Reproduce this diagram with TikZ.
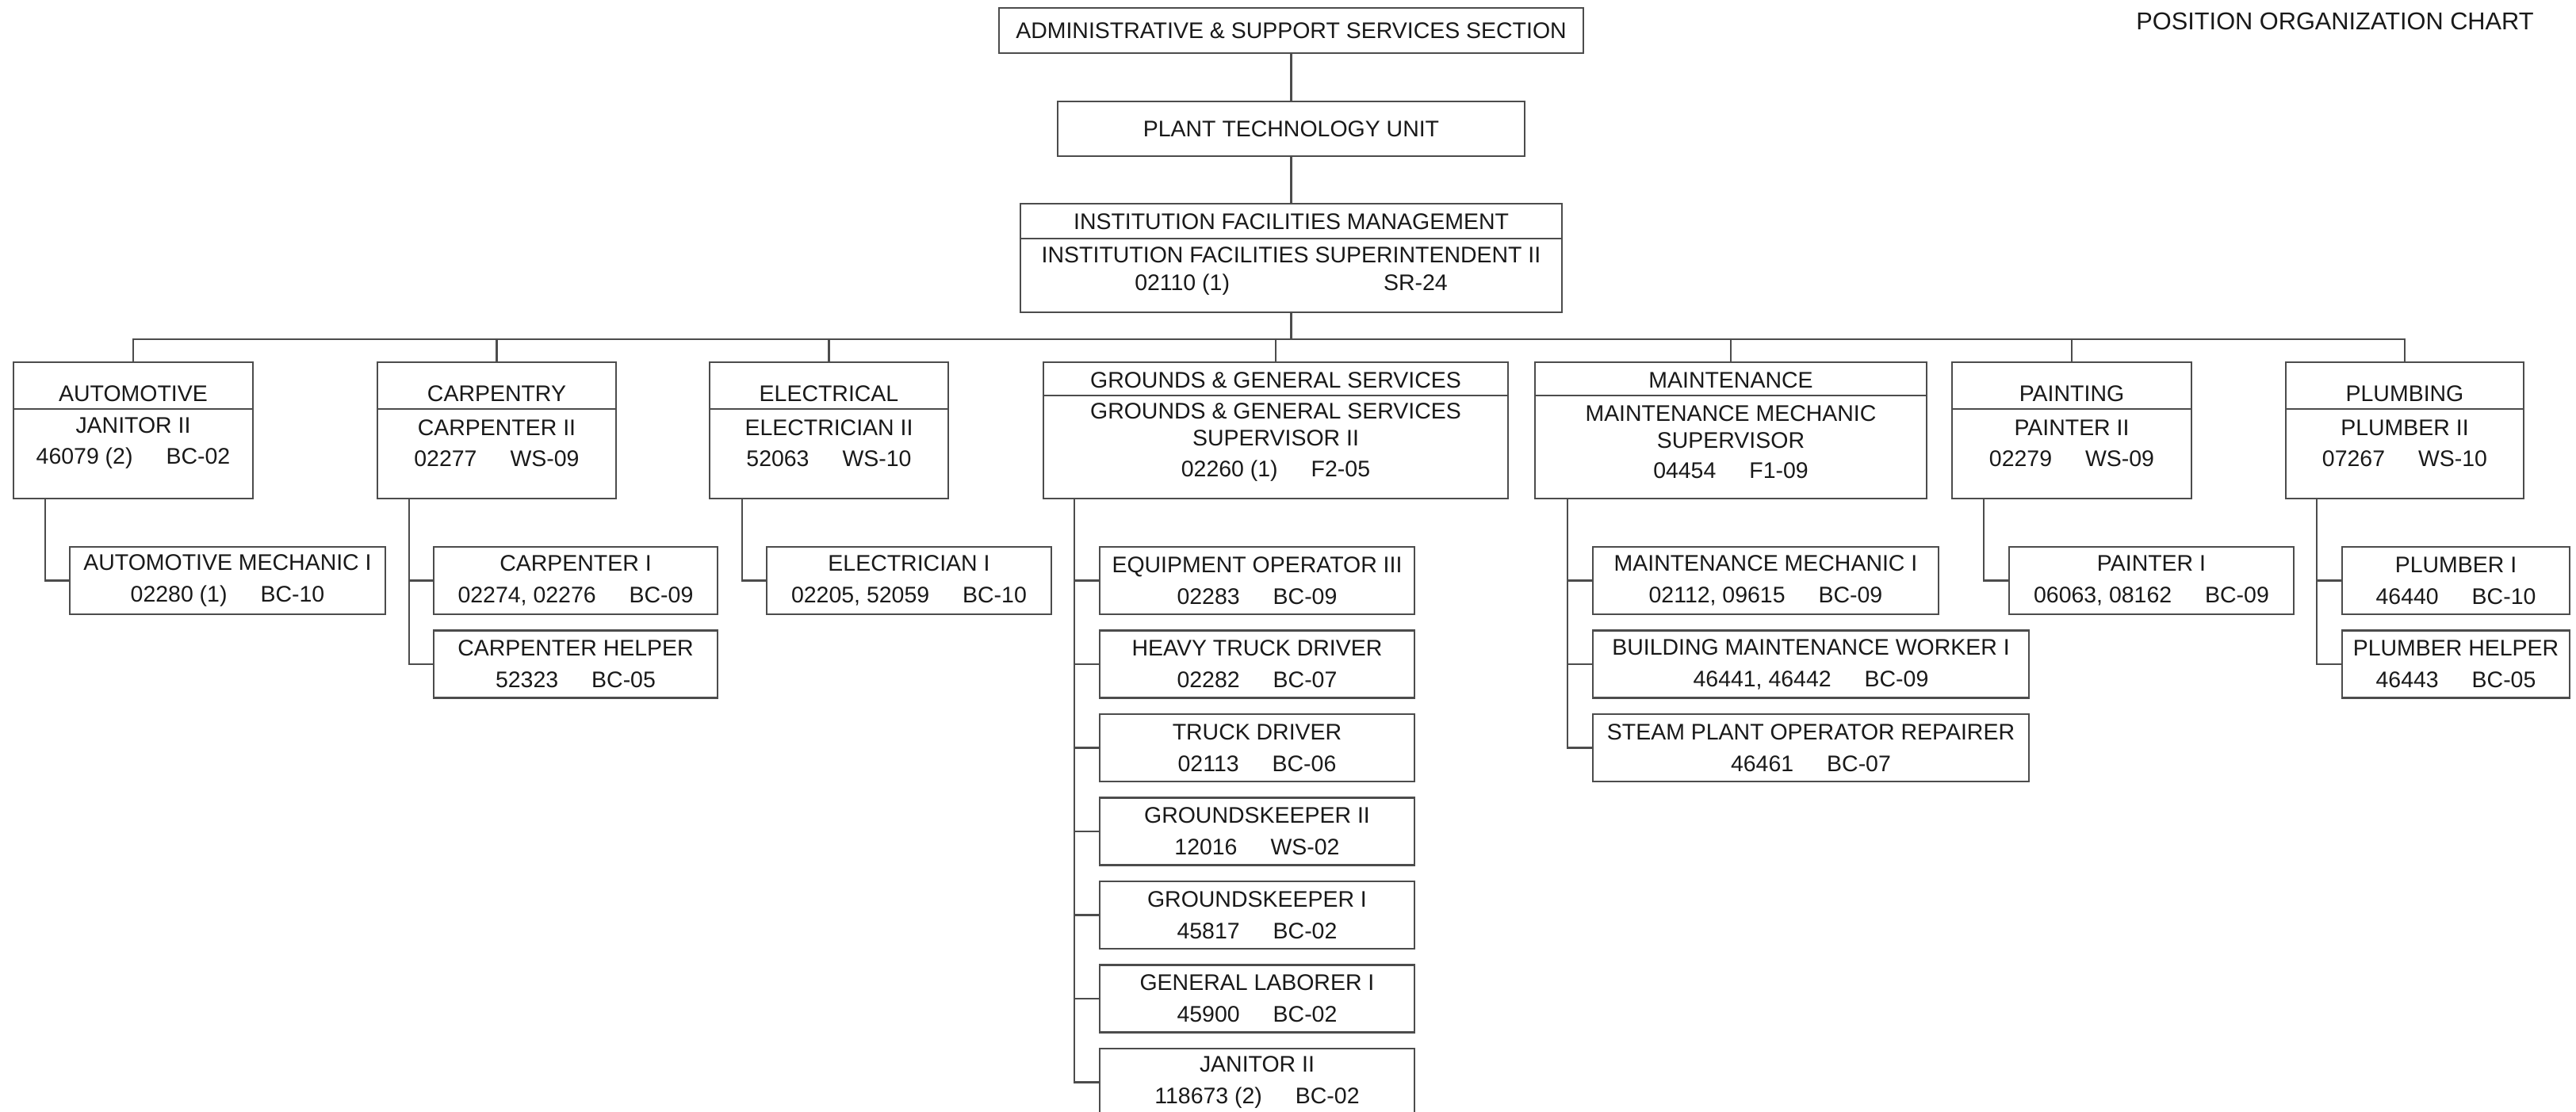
\documentclass[tikz,border=0pt]{standalone}
\usepackage{fontspec}
\setmainfont{Liberation Sans}
\usetikzlibrary{positioning}

\newcommand{\cgap}{\hspace{0.42cm}}

\tikzset{
  box/.style={draw=black!70, line width=0.6pt, inner sep=0pt},
  lbl/.style={inner sep=0pt, align=center, text=black!90, font=\fontsize{8.1}{11}\selectfont},
  posbox/.style={box, lbl, font=\fontsize{8.1}{11.4}\selectfont, minimum height=0.85cm},
  link/.style={draw=black!70, line width=0.6pt},
}

\begin{document}
\begin{tikzpicture}
  \useasboundingbox (0,0) rectangle (32.49,-14.02);

  % heading
  \node[lbl, font=\fontsize{8.75}{11}\selectfont] (heading) at (29.45,-0.27) {POSITION ORGANIZATION CHART};

  % top of the chart
  \node[box, lbl, minimum width=7.37cm, minimum height=0.57cm] (admin) at (16.285,-0.385) {ADMINISTRATIVE \& SUPPORT SERVICES SECTION};
  \node[box, lbl, minimum width=5.89cm, minimum height=0.69cm] (plant) at (16.285,-1.625) {PLANT TECHNOLOGY UNIT};
  \node[box, minimum width=6.83cm, minimum height=1.37cm] (ifm) at (16.285,-3.255) {};
  \node[lbl] (ifmt) at (16.285,-2.80) {INSTITUTION FACILITIES MANAGEMENT};
  \node[lbl] (ifmb) at (16.285,-3.42) {INSTITUTION FACILITIES SUPERINTENDENT II\\[-0.03cm]02110 (1)\hspace{1.94cm}SR-24};
  \draw[link] ([yshift=-0.45cm]ifm.north west) -- ([yshift=-0.45cm]ifm.north east);

  \draw[link] (admin.south) -- (plant.north);
  \draw[link] (plant.south) -- (ifm.north);

  % sections
  \node[box, minimum width=3.02cm, minimum height=1.72cm] (auto) at (1.68,-5.43) {};
  \node[lbl] (autot) at (1.68,-4.97) {AUTOMOTIVE};
  \node[lbl] (autob) at (1.68,-5.59) {JANITOR II\\46079 (2)\cgap BC-02};
  \draw[link] ([yshift=-0.60cm]auto.north west) -- ([yshift=-0.60cm]auto.north east);

  \node[box, minimum width=3.01cm, minimum height=1.72cm] (carp) at (6.265,-5.43) {};
  \node[lbl] (carpt) at (6.265,-4.97) {CARPENTRY};
  \node[lbl] (carpb) at (6.265,-5.59) {CARPENTER II\\02277\cgap WS-09};
  \draw[link] ([yshift=-0.60cm]carp.north west) -- ([yshift=-0.60cm]carp.north east);

  \node[box, minimum width=3.01cm, minimum height=1.72cm] (elec) at (10.455,-5.43) {};
  \node[lbl] (elect) at (10.455,-4.97) {ELECTRICAL};
  \node[lbl] (elecb) at (10.455,-5.59) {ELECTRICIAN II\\52063\cgap WS-10};
  \draw[link] ([yshift=-0.60cm]elec.north west) -- ([yshift=-0.60cm]elec.north east);

  \node[box, minimum width=5.86cm, minimum height=1.72cm] (grnd) at (16.09,-5.43) {};
  \node[lbl] (grndt) at (16.09,-4.80) {GROUNDS \& GENERAL SERVICES};
  \node[lbl] (grndb) at (16.09,-5.58) {GROUNDS \& GENERAL SERVICES\\[-0.05cm]SUPERVISOR II\\02260 (1)\cgap F2-05};
  \draw[link] ([yshift=-0.43cm]grnd.north west) -- ([yshift=-0.43cm]grnd.north east);

  \node[box, minimum width=4.94cm, minimum height=1.72cm] (maint) at (21.83,-5.43) {};
  \node[lbl] (maintt) at (21.83,-4.80) {MAINTENANCE};
  \node[lbl] (maintb) at (21.83,-5.58) {MAINTENANCE MECHANIC\\[-0.05cm]SUPERVISOR\\04454\cgap F1-09};
  \draw[link] ([yshift=-0.43cm]maint.north west) -- ([yshift=-0.43cm]maint.north east);

  \node[box, minimum width=3.02cm, minimum height=1.72cm] (paint) at (26.13,-5.43) {};
  \node[lbl] (paintt) at (26.13,-4.97) {PAINTING};
  \node[lbl] (paintb) at (26.13,-5.59) {PAINTER II\\02279\cgap WS-09};
  \draw[link] ([yshift=-0.60cm]paint.north west) -- ([yshift=-0.60cm]paint.north east);

  \node[box, minimum width=3.00cm, minimum height=1.72cm] (plumb) at (30.33,-5.43) {};
  \node[lbl] (plumbt) at (30.33,-4.97) {PLUMBING};
  \node[lbl] (plumbb) at (30.33,-5.59) {PLUMBER II\\07267\cgap WS-10};
  \draw[link] ([yshift=-0.60cm]plumb.north west) -- ([yshift=-0.60cm]plumb.north east);

  % bus to the sections
  \draw[link] (ifm.south) -- ++(0,-0.33) coordinate (bus);
  \draw[link] (bus) -| (auto.north);
  \draw[link] (bus) -| (carp.north);
  \draw[link] (bus) -| (elec.north);
  \draw[link] (bus) -| (grnd.north);
  \draw[link] (bus) -| (maint.north);
  \draw[link] (bus) -| (paint.north);
  \draw[link] (bus) -| (plumb.north);

  % positions
  \node[posbox, minimum width=3.98cm] (amech) at (2.87,-7.325) {AUTOMOTIVE MECHANIC I\\02280 (1)\cgap BC-10};

  \node[posbox, minimum width=3.58cm] (carp1) at (7.26,-7.325) {CARPENTER I\\02274, 02276\cgap BC-09};
  \node[posbox, minimum width=3.58cm] (carph) at (7.26,-8.38) {CARPENTER HELPER\\52323\cgap BC-05};

  \node[posbox, minimum width=3.59cm] (elec1) at (11.465,-7.325) {ELECTRICIAN I\\02205, 52059\cgap BC-10};

  \node[posbox, minimum width=3.97cm] (eqop) at (15.855,-7.325) {EQUIPMENT OPERATOR III\\02283\cgap BC-09};
  \node[posbox, minimum width=3.97cm] (htd) at (15.855,-8.38) {HEAVY TRUCK DRIVER\\02282\cgap BC-07};
  \node[posbox, minimum width=3.97cm] (td) at (15.855,-9.435) {TRUCK DRIVER\\02113\cgap BC-06};
  \node[posbox, minimum width=3.97cm] (gk2) at (15.855,-10.49) {GROUNDSKEEPER II\\12016\cgap WS-02};
  \node[posbox, minimum width=3.97cm] (gk1) at (15.855,-11.545) {GROUNDSKEEPER I\\45817\cgap BC-02};
  \node[posbox, minimum width=3.97cm] (gl1) at (15.855,-12.60) {GENERAL LABORER I\\45900\cgap BC-02};
  \node[posbox, minimum width=3.97cm] (jan2) at (15.855,-13.655) {JANITOR II\\118673 (2)\cgap BC-02};

  \node[posbox, minimum width=4.36cm] (mm1) at (22.27,-7.325) {MAINTENANCE MECHANIC I\\02112, 09615\cgap BC-09};
  \node[posbox, minimum width=5.50cm] (bmw1) at (22.84,-8.38) {BUILDING MAINTENANCE WORKER I\\46441, 46442\cgap BC-09};
  \node[posbox, minimum width=5.50cm] (spor) at (22.84,-9.435) {STEAM PLANT OPERATOR REPAIRER\\46461\cgap BC-07};

  \node[posbox, minimum width=3.59cm] (paint1) at (27.135,-7.325) {PAINTER I\\06063, 08162\cgap BC-09};

  \node[posbox, minimum width=2.87cm] (plumb1) at (30.975,-7.325) {PLUMBER I\\46440\cgap BC-10};
  \node[posbox, minimum width=2.87cm] (plumbh) at (30.975,-8.38) {PLUMBER HELPER\\46443\cgap BC-05};

  % section to position links
  \draw[link] ([xshift=0.41cm]auto.south west) |- (amech.west);
  \draw[link] ([xshift=0.41cm]carp.south west) |- (carp1.west);
  \draw[link] ([xshift=0.41cm]carp.south west) |- (carph.west);
  \draw[link] ([xshift=0.42cm]elec.south west) |- (elec1.west);
  \draw[link] ([xshift=0.40cm]grnd.south west) |- (eqop.west);
  \draw[link] ([xshift=0.40cm]grnd.south west) |- (htd.west);
  \draw[link] ([xshift=0.40cm]grnd.south west) |- (td.west);
  \draw[link] ([xshift=0.40cm]grnd.south west) |- (gk2.west);
  \draw[link] ([xshift=0.40cm]grnd.south west) |- (gk1.west);
  \draw[link] ([xshift=0.40cm]grnd.south west) |- (gl1.west);
  \draw[link] ([xshift=0.40cm]grnd.south west) |- (jan2.west);
  \draw[link] ([xshift=0.42cm]maint.south west) |- (mm1.west);
  \draw[link] ([xshift=0.42cm]maint.south west) |- (bmw1.west);
  \draw[link] ([xshift=0.42cm]maint.south west) |- (spor.west);
  \draw[link] ([xshift=0.41cm]paint.south west) |- (paint1.west);
  \draw[link] ([xshift=0.40cm]plumb.south west) |- (plumb1.west);
  \draw[link] ([xshift=0.40cm]plumb.south west) |- (plumbh.west);
\end{tikzpicture}
\end{document}
